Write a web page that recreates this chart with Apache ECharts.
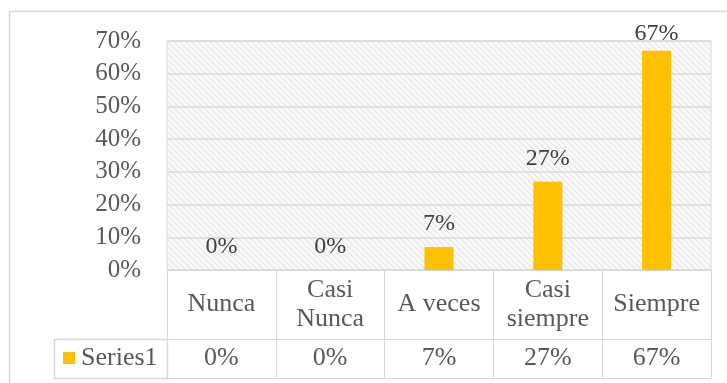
<!DOCTYPE html>
<html>
<head>
<meta charset="utf-8">
<script src="https://cdn.jsdelivr.net/npm/echarts@6/dist/echarts.min.js"></script>
<style>
  html, body { margin: 0; padding: 0; background: #ffffff; }
  #chart { width: 727px; height: 383px; }
</style>
</head>
<body>
<div id="chart"></div>
<script>
// Survey answers and their share of responses (percent)
const categories = ['Nunca', 'Casi\nNunca', 'A veces', 'Casi\nsiempre', 'Siempre'];
const seriesName = 'Series1';
const values = [0, 0, 7, 27, 67];
const yTicks = [0, 10, 20, 30, 40, 50, 60, 70];

const FONT = '"Liberation Serif", "Times New Roman", serif';
const TEXT = '#595959';
const LINE = '#d9d9d9';
const TABLE_FONT = 26;

// Plot area and data-table geometry
const W = 727, H = 383;
const plot = { left: 167, right: 16, top: 41, bottom: 113 };
const catRow = 69;     // height of the category row of the table
const valRow = 39;     // height of the value row of the table
const legendCellLeft = 54;

// Light diagonal hatch used to fill the plot area
function hatchPattern() {
  const c = document.createElement('canvas');
  c.width = 6; c.height = 6;
  const g = c.getContext('2d');
  g.fillStyle = '#f9f9f9';
  g.fillRect(0, 0, 6, 6);
  g.strokeStyle = '#e6e6e6';
  g.lineWidth = 1.2;
  for (let k = -6; k <= 6; k += 6) {
    g.beginPath();
    g.moveTo(k, 0);
    g.lineTo(k + 6, 6);
    g.stroke();
  }
  return { image: c, repeat: 'repeat' };
}

const chart = echarts.init(document.getElementById('chart'), null, { renderer: 'canvas' });

const plotBottomY = H - plot.bottom;

chart.setOption({
  animation: false,
  backgroundColor: '#ffffff',
  textStyle: { fontFamily: FONT },
  grid: {
    left: plot.left, right: plot.right, top: plot.top, bottom: plot.bottom,
    show: true,
    backgroundColor: hatchPattern(),
    borderColor: LINE,
    borderWidth: 1
  },
  legend: {
    data: [seriesName],
    left: 63,
    top: plotBottomY + catRow + 6,
    icon: 'rect',
    itemWidth: 12,
    itemHeight: 12,
    itemGap: 0,
    padding: 0,
    textStyle: { fontFamily: FONT, fontSize: TABLE_FONT, color: TEXT, padding: [2, 0, 0, 1] }
  },
  xAxis: [
    {
      type: 'category',
      data: categories,
      position: 'bottom',
      axisLine: { show: true, lineStyle: { color: LINE, width: 1 } },
      axisTick: { show: true, interval: 0, length: catRow + valRow, lineStyle: { color: LINE, width: 1 } },
      axisLabel: {
        interval: 0,
        margin: catRow / 2,
        verticalAlign: 'middle',
        fontFamily: FONT, fontSize: TABLE_FONT, color: TEXT, lineHeight: 29
      },
      splitLine: { show: false }
    },
    {
      type: 'category',
      data: categories,
      position: 'bottom',
      offset: catRow,
      axisLine: { show: true, lineStyle: { color: LINE, width: 1 } },
      axisTick: { show: false },
      axisLabel: {
        interval: 0,
        margin: valRow / 2,
        verticalAlign: 'middle',
        fontFamily: FONT, fontSize: TABLE_FONT, color: TEXT,
        formatter: (v, i) => values[i] + '%'
      }
    },
    {
      type: 'category',
      data: categories,
      position: 'bottom',
      offset: catRow + valRow,
      axisLine: { show: true, lineStyle: { color: LINE, width: 1 } },
      axisTick: { show: false },
      axisLabel: { show: false }
    }
  ],
  yAxis: {
    type: 'value',
    min: yTicks[0],
    max: yTicks[yTicks.length - 1],
    interval: yTicks[1] - yTicks[0],
    axisLine: { show: false },
    axisTick: { show: false },
    axisLabel: { margin: 26, fontFamily: FONT, fontSize: 25, color: TEXT, formatter: '{value}%' },
    splitLine: { show: true, lineStyle: { color: LINE, width: 1.5 } }
  },
  series: [{
    name: seriesName,
    type: 'bar',
    xAxisIndex: 0,
    barWidth: 29,
    itemStyle: { color: '#FFC000' },
    label: {
      show: true,
      position: 'top',
      distance: 11,
      fontFamily: FONT, fontSize: 24, color: '#404040',
      formatter: p => p.value + '%'
    },
    // the tallest bar's label sits closer so it stays inside the frame
    data: values.map(v => v > 60 ? { value: v, label: { distance: 5 } } : v)
  }],
  graphic: [
    {
      // outer chart frame
      type: 'rect',
      silent: true,
      shape: { x: 9.5, y: 11.5, width: W + 10, height: H + 10 },
      style: { fill: 'none', stroke: LINE, lineWidth: 1.5 }
    },
    {
      // legend-key cell of the data table
      type: 'rect',
      silent: true,
      shape: {
        x: legendCellLeft + 0.5,
        y: plotBottomY + catRow + 0.5,
        width: plot.left - legendCellLeft,
        height: valRow
      },
      style: { fill: 'none', stroke: LINE, lineWidth: 1.5 }
    }
  ]
});
</script>
</body>
</html>
